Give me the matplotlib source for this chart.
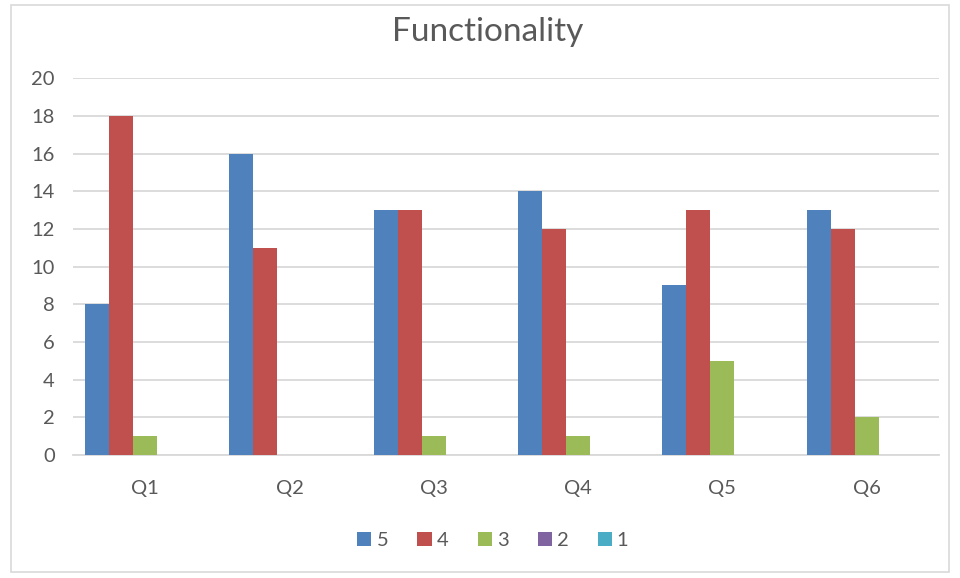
import numpy as np
import matplotlib.pyplot as plt
from matplotlib.patches import Rectangle

# データ
categories = ['Q1', 'Q2', 'Q3', 'Q4', 'Q5', 'Q6']
series_names = ['5', '4', '3', '2', '1']
s5 = [8, 16, 13, 14, 9, 13]
s4 = [18, 11, 13, 12, 13, 12]
s3 = [1, 0, 1, 1, 5, 2]
s2 = [0, 0, 0, 0, 0, 0]
s1 = [0, 0, 0, 0, 0, 0]
colors = ['#4F81BD', '#C0504D', '#9BBB59', '#8064A2', '#4BACC6']

plt.rcParams['font.family'] = ['Lato', 'DejaVu Sans']

fig = plt.figure(figsize=(9.6, 5.78), dpi=100)
ax = fig.add_axes([0.076, 0.2128, 0.902, 0.652])

# 外枠
fig.patches.append(Rectangle((0.011, 0.01), 0.978, 0.982, transform=fig.transFigure,
                             fill=False, edgecolor='#D9D9D9', linewidth=1.2))

x = np.arange(len(categories))
w = 1 / 6
for i, (vals, name) in enumerate(zip([s5, s4, s3, s2, s1], series_names)):
    ax.bar(x + (i - 2) * w, vals, width=w, color=colors[i], label=name, zorder=3)

ax.set_xlim(-0.5, len(categories) - 0.5)
ax.set_ylim(0, 20)
ax.set_yticks(range(0, 21, 2))
ax.set_xticks(x)
ax.set_xticklabels(categories)
ax.grid(axis='y', color='#D9D9D9', linewidth=1.3, zorder=0)
for s in ['top', 'right', 'left']:
    ax.spines[s].set_visible(False)
ax.spines['bottom'].set_color('#D9D9D9')
ax.spines['bottom'].set_linewidth(1.3)
ax.tick_params(axis='both', length=0, labelsize=14.5, labelcolor='#595959')
ax.tick_params(axis='y', pad=13)
ax.tick_params(axis='x', pad=18)

fig.text(0.508, 0.945, 'Functionality', ha='center', va='center', fontsize=24, color='#595959')

ax.legend(loc='center', bbox_to_anchor=(0.485, -0.228), ncol=5, frameon=False,
          fontsize=14.5, handlelength=0.7, handleheight=0.7, handletextpad=0.25,
          columnspacing=1.45, labelcolor='#595959')

plt.savefig('out.png', dpi=100)
